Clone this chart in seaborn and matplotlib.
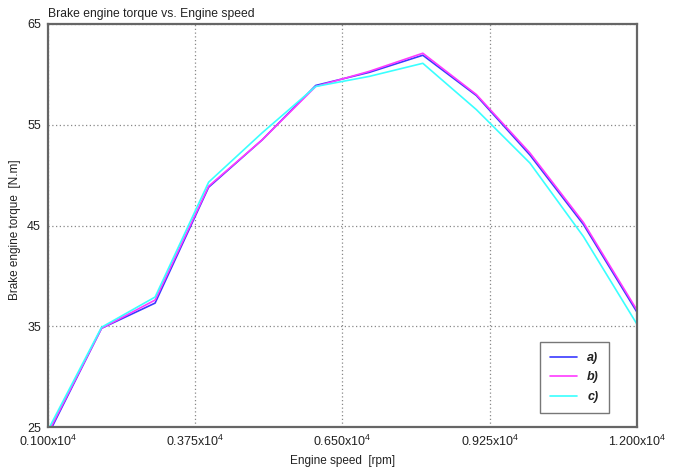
import matplotlib
matplotlib.use("Agg")
import matplotlib.pyplot as plt
import seaborn as sns
import pandas as pd

speed = [1000, 2000, 3000, 4000, 5000, 6000, 7000, 8000, 9000, 10000, 11000, 12000]
torque_a = [24.2, 34.8, 37.3, 48.8, 53.5, 58.9, 60.2, 61.9, 57.9, 52.0, 45.1, 36.4]
torque_b = [24.4, 34.8, 37.6, 48.9, 53.5, 58.8, 60.3, 62.1, 58.0, 52.2, 45.3, 36.6]
torque_c = [24.7, 34.9, 37.9, 49.3, 54.2, 58.8, 59.8, 61.1, 56.5, 51.2, 43.9, 35.2]
series = ["a)", "b)", "c)"]
colors = ["#3a3aff", "#ff3aff", "#3affff"]
xticks = [1000, 3750, 6500, 9250, 12000]
xticklabels = ["0.100x10$^4$", "0.375x10$^4$", "0.650x10$^4$", "0.925x10$^4$", "1.200x10$^4$"]
yticks = [25, 35, 45, 55, 65]

df = pd.DataFrame({
    "speed": speed * 3,
    "torque": torque_a + torque_b + torque_c,
    "series": [s for s in series for _ in speed],
})

sns.set_style("white")
plt.rcParams["font.family"] = ["Liberation Sans", "DejaVu Sans"]
plt.rcParams["mathtext.fontset"] = "custom"
plt.rcParams["mathtext.rm"] = "Liberation Sans"
plt.rcParams["mathtext.it"] = "Liberation Sans:italic"
plt.rcParams["mathtext.bf"] = "Liberation Sans:bold"
txt = "#222222"

fig = plt.figure(figsize=(6.77, 4.70), dpi=100)
ax = fig.add_axes([48/677, 1 - 427/470, (637-48)/677, (427-24)/470])
sns.lineplot(data=df, x="speed", y="torque", hue="series", palette=colors,
             linewidth=1.2, ax=ax, legend=True)
ax.set_xlim(1000, 12000)
ax.set_ylim(25, 65)
ax.set_xticks(xticks)
ax.set_xticklabels(xticklabels, fontsize=9, color=txt)
ax.set_yticks(yticks)
ax.set_yticklabels([str(v) for v in yticks], fontsize=9, color=txt)
ax.grid(True, linestyle=(0, (1, 2)), color="#888888", linewidth=0.9)
for s in ax.spines.values():
    s.set_color("#666666")
    s.set_linewidth(1.6)
ax.tick_params(axis="both", direction="out", length=3, width=0.8, color="#555555", pad=2)
ax.set_xlabel("Engine speed  [rpm]", fontsize=8.5, labelpad=4, color=txt)
ax.set_ylabel("Brake engine torque  [N.m]", fontsize=8.5, color=txt)
ax.yaxis.set_label_coords(-0.046, 0.49)
ax.set_title("Brake engine torque vs. Engine speed", fontsize=8.7, loc="left", x=0.0,
             pad=5, color=txt)
leg = ax.legend(loc="lower right", bbox_to_anchor=(0.9525, 0.035), frameon=True, fancybox=False,
                edgecolor="#555555", handlelength=2.2, borderaxespad=0,
                prop={"style": "italic", "weight": "bold", "size": 9},
                borderpad=0.8, labelspacing=0.6)
leg.get_frame().set_linewidth(1.0)
for t in leg.get_texts():
    t.set_color(txt)
fig.savefig("out.png", dpi=100, facecolor="white")
